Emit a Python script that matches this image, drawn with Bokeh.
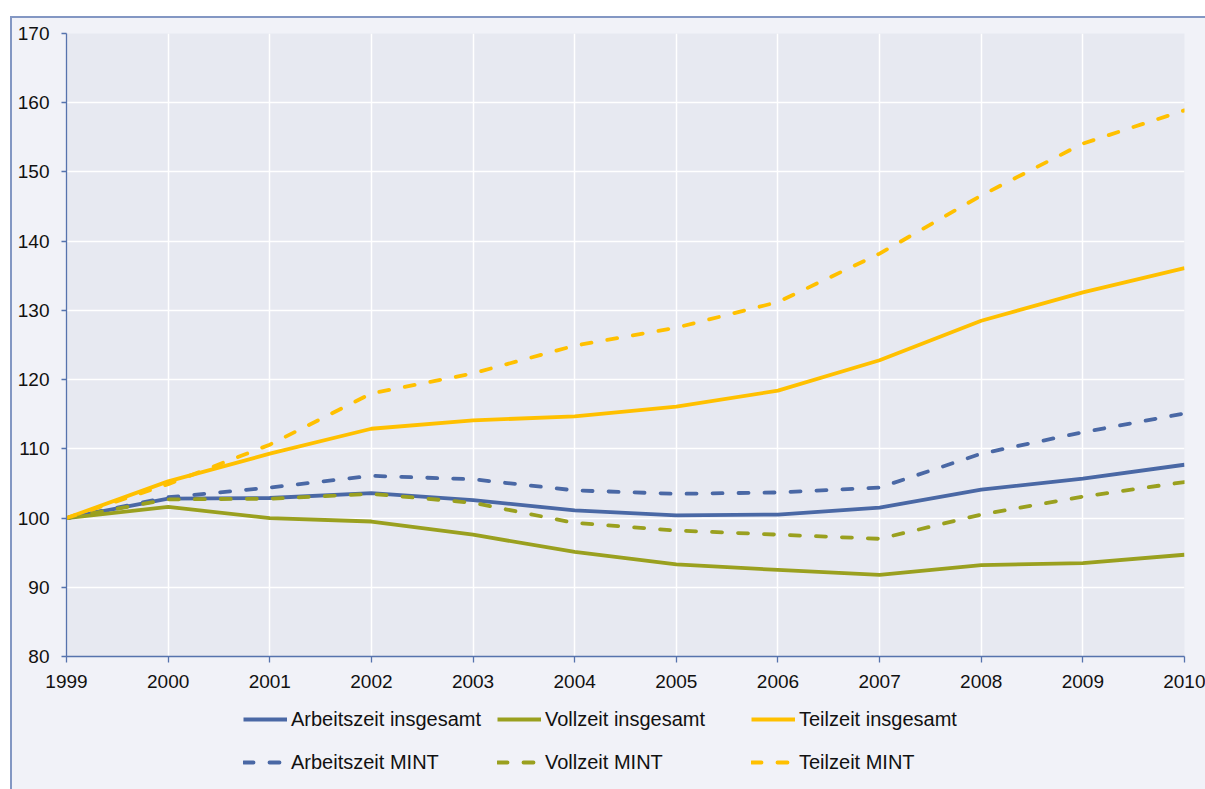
from bokeh.plotting import figure
from bokeh.layouts import column
from bokeh.models import Range1d, FixedTicker, Legend, LegendItem
from bokeh.embed import file_html
from bokeh.resources import INLINE

years = [1999, 2000, 2001, 2002, 2003, 2004, 2005, 2006, 2007, 2008, 2009, 2010]
year_labels = [str(y) for y in years]
y_ticks = [80, 90, 100, 110, 120, 130, 140, 150, 160, 170]

arbeitszeit_insgesamt = [100, 102.8, 102.9, 103.6, 102.6, 101.1, 100.4, 100.5, 101.5, 104.1, 105.7, 107.7]
vollzeit_insgesamt = [100, 101.6, 100.0, 99.5, 97.6, 95.1, 93.3, 92.5, 91.8, 93.2, 93.5, 94.7]
teilzeit_insgesamt = [100, 105.3, 109.3, 112.9, 114.1, 114.7, 116.1, 118.4, 122.8, 128.5, 132.6, 136.1]
arbeitszeit_mint = [100, 103.0, 104.4, 106.1, 105.6, 104.0, 103.5, 103.7, 104.4, 109.3, 112.4, 115.1]
vollzeit_mint = [100, 102.7, 102.8, 103.5, 102.2, 99.3, 98.2, 97.6, 97.0, 100.5, 103.1, 105.2]
teilzeit_mint = [100, 104.9, 110.6, 118.0, 120.9, 124.9, 127.5, 131.2, 138.2, 146.6, 154.1, 158.9]

names_total = ["Arbeitszeit insgesamt", "Vollzeit insgesamt", "Teilzeit insgesamt"]
names_mint = ["Arbeitszeit MINT", "Vollzeit MINT", "Teilzeit MINT"]

BLUE = "#4a68a5"
OLIVE = "#9aa01f"
YELLOW = "#ffc000"
FONT = "Liberation Sans"
BG = "#f1f2f8"

series_total = [arbeitszeit_insgesamt, vollzeit_insgesamt, teilzeit_insgesamt]
series_mint = [arbeitszeit_mint, vollzeit_mint, teilzeit_mint]
colors = [BLUE, OLIVE, YELLOW]

# ---------------- main chart ----------------
p = figure(
    frame_width=1118, frame_height=623,
    min_border_left=54, min_border_top=15, min_border_right=21, min_border_bottom=50,
    x_range=Range1d(1999, 2010), y_range=Range1d(80, 170),
    output_backend="svg", toolbar_location=None,
    background_fill_color="#e7e9f1", border_fill_color=BG,
    outline_line_color=None,
)

for ax in (p.xaxis[0], p.yaxis[0]):
    ax.axis_line_color = "#5673ad"
    ax.axis_line_width = 1.3
    ax.major_tick_line_color = "#5673ad"
    ax.major_tick_line_width = 1.3
    ax.major_tick_in = 0
    ax.minor_tick_line_color = None
    ax.major_label_text_font = FONT
    ax.major_label_text_font_size = "19px"
    ax.major_label_text_color = "#111111"

p.xaxis.ticker = FixedTicker(ticks=years)
p.xaxis.major_label_overrides = {y: l for y, l in zip(years, year_labels)}
p.xaxis.major_tick_out = 6
p.xaxis.major_label_standoff = 12
p.yaxis.ticker = FixedTicker(ticks=y_ticks)
p.yaxis.major_tick_out = 5
p.yaxis.major_label_standoff = 12

p.xgrid.ticker = FixedTicker(ticks=years)
p.ygrid.ticker = FixedTicker(ticks=y_ticks)
for g in (p.xgrid[0], p.ygrid[0]):
    g.grid_line_color = "white"
    g.grid_line_width = 1.5

for vals, c in zip(series_total, colors):
    p.line(years, vals, line_color=c, line_width=3.8, line_join="round")
for vals, c in zip(series_mint, colors):
    p.line(years, vals, line_color=c, line_width=3.8, line_join="round",
           line_cap="round", line_dash="10 16")

# ---------------- legend strip ----------------
leg = figure(
    width=1193, height=83, min_border=0,
    x_range=Range1d(1999, 2010), y_range=Range1d(0, 1),
    output_backend="svg", toolbar_location=None,
    x_axis_type=None, y_axis_type=None,
    background_fill_color=BG, border_fill_color=BG, outline_line_color=None,
)
leg.grid.visible = False

items_total = []
for name, vals, c in zip(names_total, series_total, colors):
    r = leg.line(years, vals, line_color=c, line_width=3.8)
    items_total.append(LegendItem(label=name, renderers=[r]))
items_mint = []
for name, vals, c in zip(names_mint, series_mint, colors):
    r = leg.line(years, vals, line_color=c, line_width=3.8, line_cap="round",
                 line_dash="10 16")
    items_mint.append(LegendItem(label=name, renderers=[r]))


def make_legend(items, vy):
    return Legend(items=items, location=(177, vy), orientation="horizontal",
                  glyph_width=44, glyph_height=24, label_height=24, label_width=206,
                  label_standoff=4, spacing=0, padding=0, margin=0,
                  label_text_font=FONT, label_text_font_size="20px",
                  label_text_color="#111111",
                  background_fill_alpha=0, border_line_alpha=0)


leg.add_layout(make_legend(items_total, 58))
leg.add_layout(make_legend(items_mint, 15))

layout = column(p, leg, spacing=0)
layout.margin = (16, 0, 0, 10)
layout.styles = {"border-top": "2px solid #8397c3", "border-left": "2px solid #8397c3",
                 "background-color": BG}

open("out.html", "w").write(file_html(layout, INLINE))
